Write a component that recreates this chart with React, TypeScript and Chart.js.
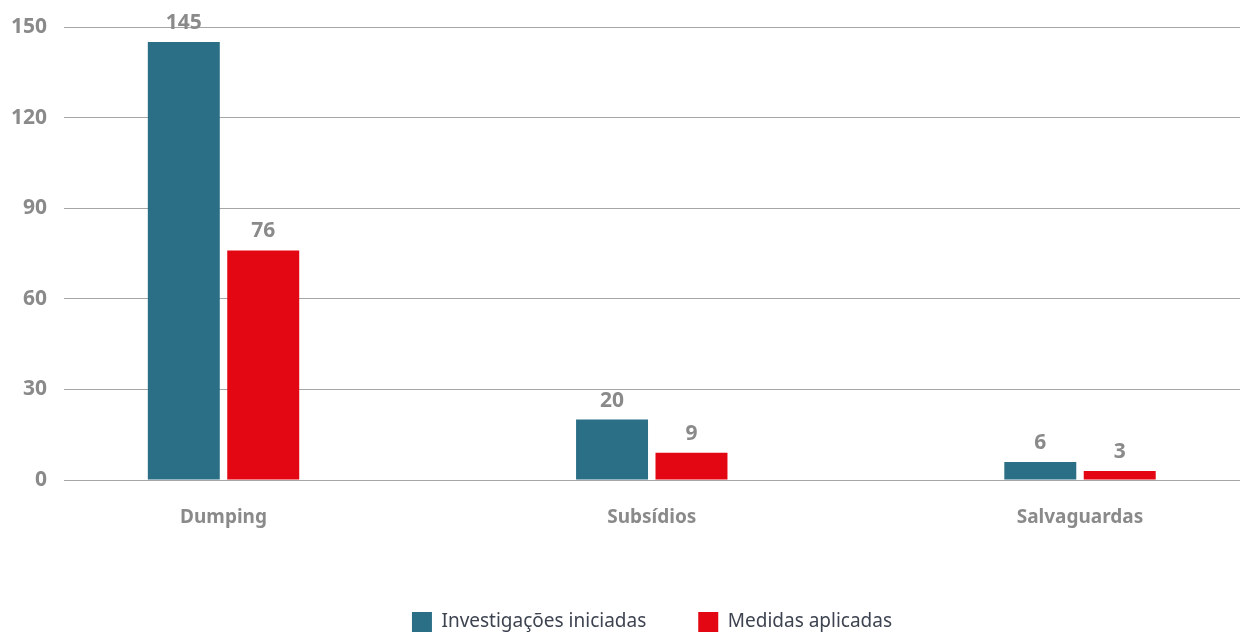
import React, { useEffect, useRef } from "react";
import { Chart, registerables } from "chart.js";

Chart.register(...registerables);

const categories = ["Dumping", "Subsídios", "Salvaguardas"];
const seriesNames = ["Investigações iniciadas", "Medidas aplicadas"];
const investigacoes = [145, 20, 6];
const medidas = [76, 9, 3];
const yTicks = [0, 30, 60, 90, 120, 150];

const FONT = "'Noto Sans', sans-serif";
const GRAY = "#8a8a8a";

const valueLabels = {
  id: "valueLabels",
  afterDatasetsDraw(chart: any) {
    const ctx = chart.ctx;
    ctx.save();
    ctx.font = `bold 21px ${FONT}`;
    ctx.fillStyle = GRAY;
    ctx.textAlign = "center";
    ctx.textBaseline = "alphabetic";
    chart.data.datasets.forEach((ds: any, di: number) => {
      const meta = chart.getDatasetMeta(di);
      meta.data.forEach((el: any, i: number) => {
        ctx.fillText(String(ds.data[i].y), el.x, el.y - 13);
      });
    });
    ctx.restore();
  },
};

const legendShift = {
  id: "legendShift",
  afterLayout(chart: any) {
    if (chart.legend) {
      chart.legend.left = chart.chartArea.left;
      chart.legend.right = chart.chartArea.right;
    }
  },
};

export default function App() {
  const ref = useRef<HTMLCanvasElement | null>(null);
  useEffect(() => {
    document.body.style.margin = "0";
    const toPts = (arr: number[]) => arr.map((v, i) => ({ x: i, y: v }));
    const chart = new Chart(ref.current as HTMLCanvasElement, {
      type: "bar",
      data: {
        datasets: [
          {
            label: seriesNames[0],
            data: toPts(investigacoes),
            backgroundColor: "#2b6f87",
            categoryPercentage: 0.371,
            barPercentage: 0.906,
          },
          {
            label: seriesNames[1],
            data: toPts(medidas),
            backgroundColor: "#e30613",
            categoryPercentage: 0.371,
            barPercentage: 0.906,
          },
        ] as any,
      },
      options: {
        animation: false,
        responsive: false,
        maintainAspectRatio: false,
        layout: { padding: { top: 27, bottom: -8, left: 0, right: 0 } },
        plugins: {
          tooltip: { enabled: false },
          legend: {
            position: "bottom",
            labels: {
              boxWidth: 20,
              boxHeight: 20,
              padding: 52,
              color: "#3d4350",
              font: { family: FONT, size: 19 },
            },
          },
        },
        scales: {
          x: {
            type: "linear",
            min: -0.3725,
            max: 2.3736,
            offset: false,
            grid: { display: false },
            border: { display: false },
            afterBuildTicks: (scale: any) => {
              scale.ticks = categories.map((_, i) => ({ value: i }));
            },
            afterFit: (scale: any) => {
              scale.height = 80;
              scale.paddingLeft = 0;
              scale.paddingRight = 0;
            },
            ticks: {
              padding: 18,
              color: GRAY,
              font: { family: FONT, size: 19, weight: "bold" },
              callback: (v: any) => categories[v] ?? "",
              maxRotation: 0,
              autoSkip: false,
            },
          },
          y: {
            min: 0,
            max: 150,
            afterBuildTicks: (scale: any) => {
              scale.ticks = yTicks.map((v) => ({ value: v }));
            },
            afterFit: (scale: any) => {
              scale.width = 64;
              scale.paddingTop = 0;
              scale.paddingBottom = 0;
            },
            border: { display: false },
            grid: { color: "#a6a6a6", lineWidth: 1, drawTicks: false },
            ticks: {
              padding: 17,
              color: GRAY,
              font: { family: FONT, size: 21, weight: "bold" },
            },
          },
        },
      } as any,
      plugins: [valueLabels, legendShift],
    });
    return () => chart.destroy();
  }, []);
  return (
    <div style={{ position: "fixed", left: 0, top: 0, width: 1240, height: 634 }}>
      <canvas ref={ref} width={1240} height={634} />
    </div>
  );
}
